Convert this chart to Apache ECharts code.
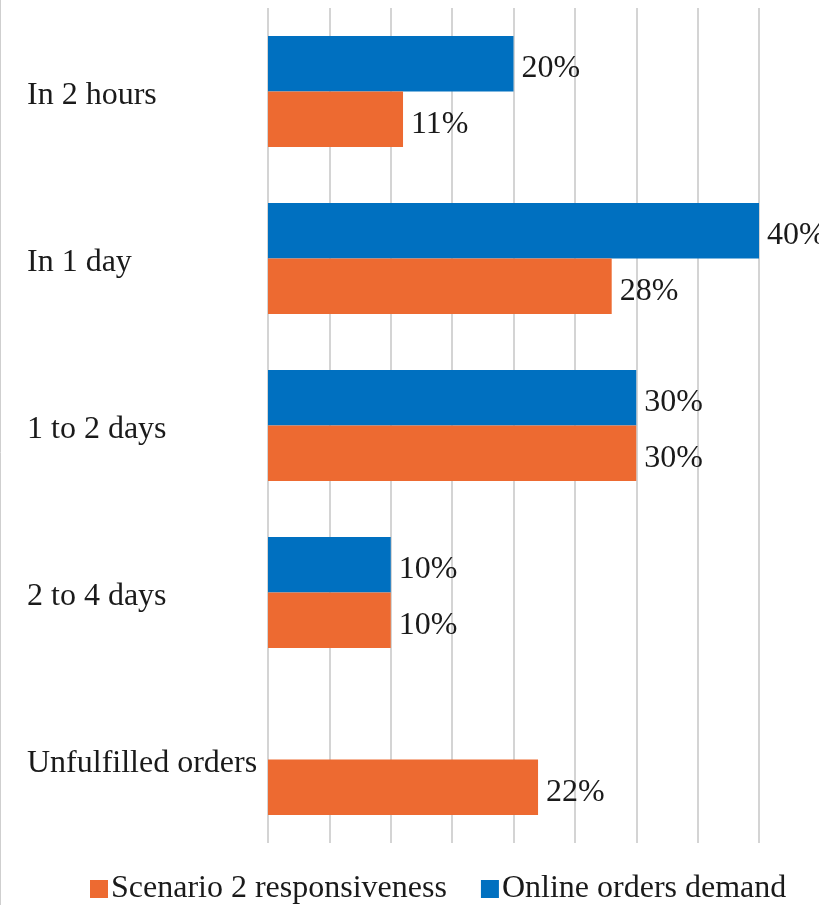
<!DOCTYPE html>
<html>
<head>
<meta charset="utf-8">
<script src="https://cdn.jsdelivr.net/npm/echarts@6/dist/echarts.min.js"></script>
<style>
  html, body { margin: 0; padding: 0; background: #fff; }
  #chart { width: 819px; height: 905px; }
</style>
</head>
<body>
<div id="chart"></div>
<script>
// Delivery time categories, top to bottom
const categories = ['In 2 hours', 'In 1 day', '1 to 2 days', '2 to 4 days', 'Unfulfilled orders'];
// Share of orders (%) per category
const scenarioValues = [11, 28, 30, 10, 22];
const demandValues = [20, 40, 30, 10, null];
const seriesNames = ['Scenario 2 responsiveness', 'Online orders demand'];

const FONT = '"Liberation Serif", "Times New Roman", serif';
const TEXT = '#1a1a1a';
const FS = 32;

const chart = echarts.init(document.getElementById('chart'), null, { renderer: 'canvas' });

const labelStyle = {
  show: true,
  position: 'right',
  distance: 8,
  offset: [0, 5],
  formatter: p => p.value + '%',
  fontFamily: FONT,
  fontSize: FS,
  color: TEXT
};

chart.setOption({
  animation: false,
  backgroundColor: '#fff',
  grid: { left: 268, right: 60, top: 8, bottom: 62 },
  legend: {
    data: seriesNames,
    top: 873,
    left: 90,
    padding: 0,
    itemWidth: 18,
    itemHeight: 18,
    itemGap: 34,
    icon: 'rect',
    textStyle: { fontFamily: FONT, fontSize: FS, color: TEXT, padding: [0, 0, 0, -2] }
  },
  xAxis: {
    type: 'value',
    min: 0,
    max: 40,
    interval: 5,
    axisLabel: { show: false },
    axisLine: { show: false },
    axisTick: { show: false },
    splitLine: { lineStyle: { color: '#d4d4d4', width: 2 } }
  },
  yAxis: {
    type: 'category',
    data: categories,
    inverse: true,
    axisLine: { show: false },
    axisTick: { show: false },
    axisLabel: {
      align: 'left',
      margin: 241,
      formatter: v => '{t|' + v + '}',
      rich: {
        t: {
          fontFamily: FONT,
          fontSize: FS,
          color: TEXT,
          padding: [9, 0, 0, 0]
        }
      }
    }
  },
  series: [
    {
      name: seriesNames[1],
      type: 'bar',
      data: demandValues,
      itemStyle: { color: '#0070C0' },
      barGap: '0%',
      barCategoryGap: '33.5%',
      label: labelStyle
    },
    {
      name: seriesNames[0],
      type: 'bar',
      data: scenarioValues,
      itemStyle: { color: '#ED6A31' },
      barGap: '0%',
      barCategoryGap: '33.5%',
      label: labelStyle
    }
  ],
  graphic: [
    {
      type: 'line',
      shape: { x1: 0.5, y1: 0, x2: 0.5, y2: 905 },
      style: { stroke: '#cfcfcf', lineWidth: 1 }
    }
  ]
});
</script>
</body>
</html>
